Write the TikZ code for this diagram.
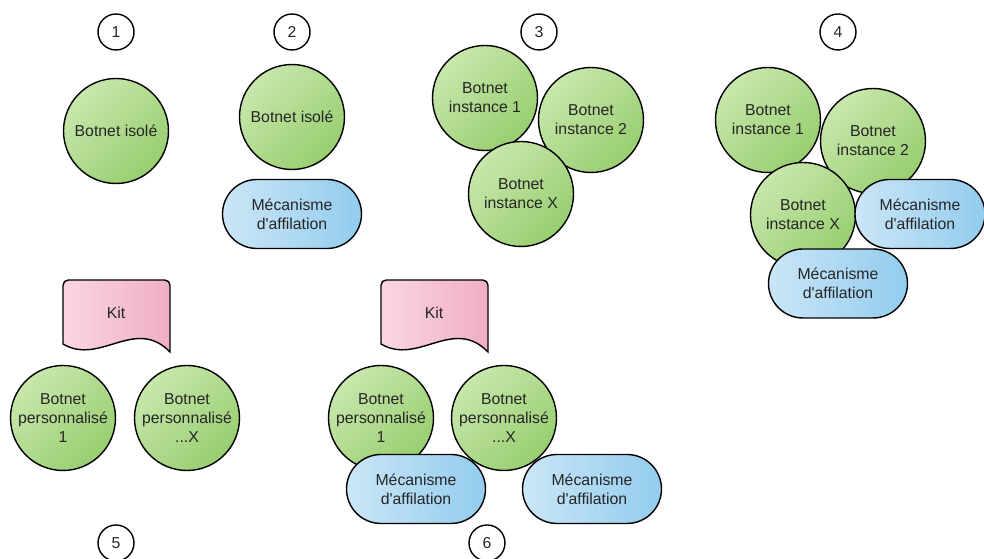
\documentclass[tikz,border=0pt]{standalone}
\usepackage{fontspec}
\setmainfont{Liberation Sans}
\usetikzlibrary{shapes.misc}
\definecolor{botlight}{RGB}{200,231,172}
\definecolor{botdark}{RGB}{152,206,112}
\definecolor{afflight}{RGB}{203,230,247}
\definecolor{affdark}{RGB}{146,204,238}
\definecolor{kitlight}{RGB}{250,214,226}
\definecolor{kitdark}{RGB}{240,174,197}
\tikzset{
  txt/.style={font=\fontsize{9pt}{10.8pt}\selectfont, align=center, text=black!85},
  num/.style={txt, circle, draw, line width=0.8pt, minimum size=0.72cm, inner sep=0pt},
  botnet/.style={txt, circle, draw, line width=0.8pt, minimum size=2.1cm, inner sep=-5pt, top color=botlight, bottom color=botdark, shading angle=45},
  affil/.style={txt, rounded rectangle, draw, line width=0.8pt, minimum width=2.78cm, minimum height=1.38cm, inner sep=0pt, left color=afflight, right color=affdark},
  kitbox/.style={draw, line width=0.8pt, left color=kitlight, right color=kitdark},
}
\newcommand{\affil}{Mécanisme\\d\textquotesingle affilation}
\begin{document}
\begin{tikzpicture}
\useasboundingbox (0,0) rectangle (19.68,11.18);

% numbers
\node[num] (n1) at (2.32,10.54) {1};
\node[num] (n2) at (5.84,10.54) {2};
\node[num] (n3) at (10.78,10.54) {3};
\node[num] (n4) at (16.76,10.54) {4};
\node[num] (n5) at (2.32,0.32) {5};
\node[num] (n6) at (9.74,0.32) {6};

% 1
\node[botnet] (iso1) at (2.32,8.56) {Botnet isolé};

% 2
\node[botnet] (iso2) at (5.84,8.84) {Botnet isolé};
\node[affil] (aff2) at (5.84,6.90) {\affil};

% 3
\node[botnet] (inst31) at (9.70,9.22) {Botnet\\instance 1};
\node[botnet] (inst32) at (11.82,8.78) {Botnet\\instance 2};
\node[botnet] (inst3x) at (10.42,7.30) {Botnet\\instance X};

% 4
\node[botnet] (inst41) at (15.36,8.78) {Botnet\\instance 1};
\node[botnet] (inst42) at (17.46,8.36) {Botnet\\instance 2};
\node[botnet] (inst4x) at (16.06,6.88) {Botnet\\instance X};
\node[affil, minimum width=2.6cm] (aff4a) at (18.40,6.90) {\affil};
\node[affil] (aff4b) at (16.76,5.51) {\affil};

% 5
\draw[kitbox] (1.26,4.30) {[rounded corners=3pt] -- (1.26,5.58) -- (3.40,5.58)} -- (3.40,4.14)
  .. controls (2.70,4.86) and (2.00,3.86) .. cycle;
\node[txt] (kit5) at (2.32,4.92) {Kit};
\node[botnet] (p51) at (1.26,2.82) {Botnet\\personnalisé\\1};
\node[botnet] (p5x) at (3.74,2.82) {Botnet\\personnalisé\\...X};

% 6
\draw[kitbox] (7.62,4.30) {[rounded corners=3pt] -- (7.62,5.58) -- (9.76,5.58)} -- (9.76,4.14)
  .. controls (9.06,4.86) and (8.36,3.86) .. cycle;
\node[txt] (kit6) at (8.68,4.92) {Kit};
\node[botnet] (p61) at (7.62,2.82) {Botnet\\personnalisé\\1};
\node[botnet] (p6x) at (10.08,2.82) {Botnet\\personnalisé\\...X};
\node[affil] (aff6a) at (8.32,1.40) {\affil};
\node[affil] (aff6b) at (11.84,1.40) {\affil};

\end{tikzpicture}
\end{document}
